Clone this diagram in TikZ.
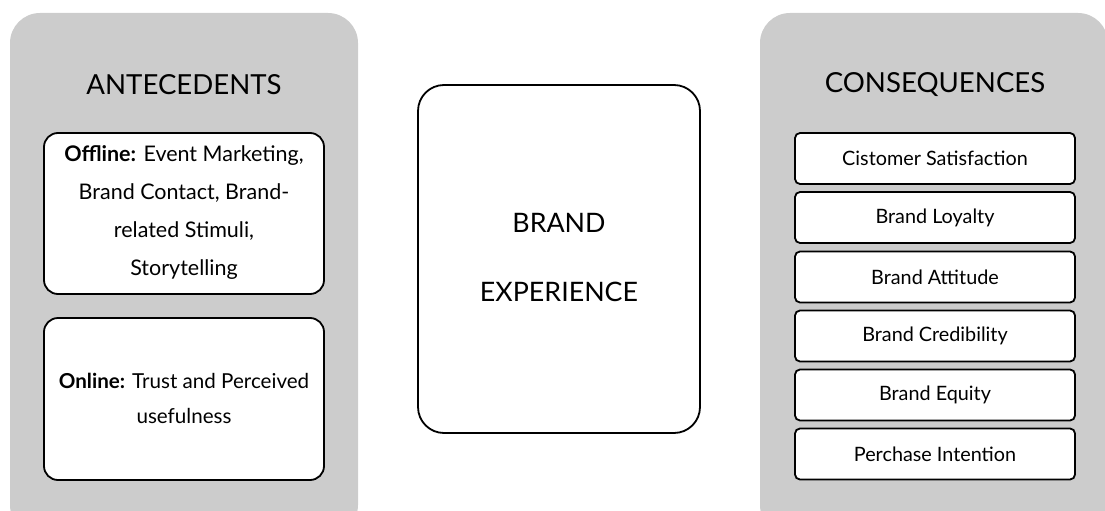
\documentclass[tikz,border=0pt]{standalone}
\usepackage{fontspec}
\setmainfont{Lato}
\begin{document}
\begin{tikzpicture}[x=1pt,y=-1pt,
  panel/.style={fill=black!20, draw=none, rounded corners=30pt},
  card/.style={draw=black, line width=1.8pt, fill=white, rounded corners=14pt},
  item/.style={draw=black, line width=1.8pt, fill=white, rounded corners=5pt,
    minimum width=280pt, minimum height=51pt, inner sep=0pt,
    font=\fontsize{19.8}{23}\selectfont},
  heading/.style={font=\fontsize{27.6}{32}\selectfont},
  body/.style={align=center, inner sep=0pt}]
\useasboundingbox (0,0) rectangle (1105,511);
\clip (0,0) rectangle (1105,511);

% side panels
\fill[panel] (10,13) rectangle (358,535);
\fill[panel] (760,13) rectangle (1108,535);

\node[heading] (anteT) at (184,85) {ANTECEDENTS};
\node[heading] (consT) at (935,85) {CONSEQUENCES};

% antecedent cards
\draw[card] (44,133) rectangle (324,294);
\node[body, font=\fontsize{21.5}{38}\selectfont] (offline) at (184,212) {\textbf{Offline:} Event Marketing,\\Brand Contact, Brand-\\related Stimuli,\\Storytelling};

\draw[card] (44,318) rectangle (324,480);
\node[body, font=\fontsize{20.6}{35}\selectfont] (online) at (184,398) {\textbf{Online:} Trust and Perceived\\usefulness};

% central construct
\draw[card, rounded corners=26pt] (418,85) rectangle (700,433);
\node[body, font=\fontsize{26.8}{69}\selectfont] (brand) at (559,258) {BRAND\\EXPERIENCE};

% consequence list
\foreach \name/\yy/\txt in {c1/158.5/Cistomer Satisfaction, c2/217.5/Brand Loyalty,
    c3/277/Brand Attitude, c4/336/Brand Credibility, c5/395/Brand Equity,
    c6/454/Perchase Intention}
  \node[item] (\name) at (935,\yy) {\txt};
\end{tikzpicture}
\end{document}
